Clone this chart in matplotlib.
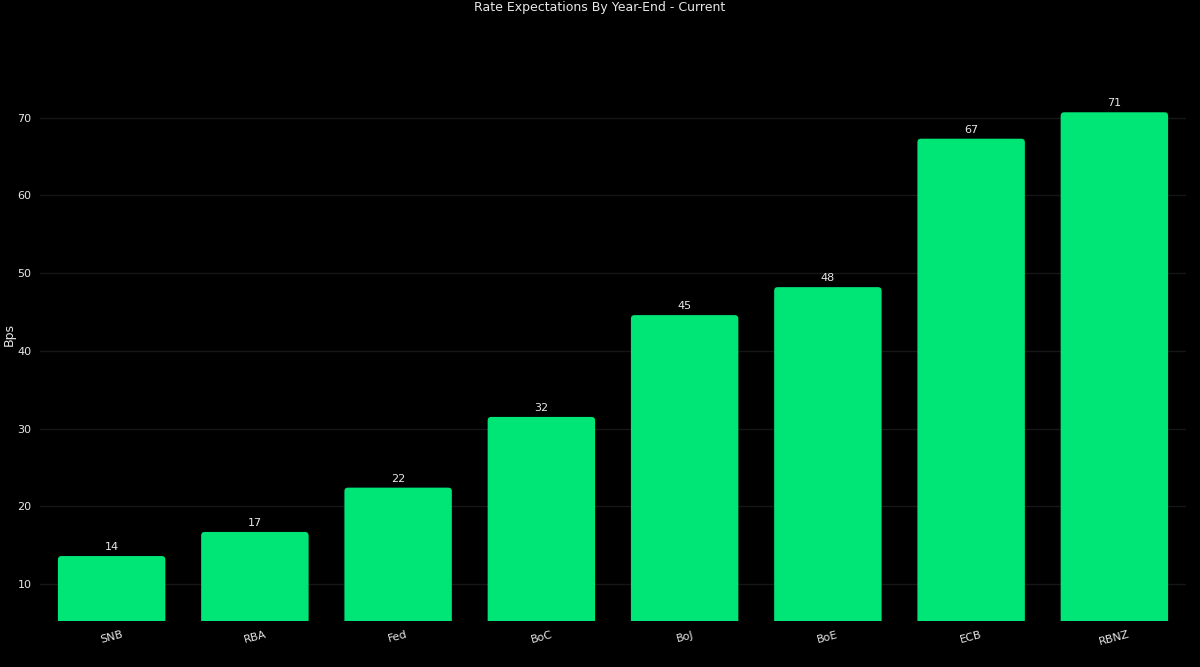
import matplotlib
matplotlib.use("Agg")
import matplotlib.pyplot as plt
from matplotlib.patches import FancyBboxPatch

# data
banks = ["SNB", "RBA", "Fed", "BoC", "BoJ", "BoE", "ECB", "RBNZ"]
bps = [13.6, 16.7, 22.4, 31.5, 44.6, 48.2, 67.3, 70.7]
yticks = [10, 20, 30, 40, 50, 60, 70]

green = "#00e676"

fig = plt.figure(figsize=(12, 6.67), dpi=100, facecolor="black")
ax = fig.add_axes([40 / 1200, 46 / 667, 1146 / 1200, 581 / 667], facecolor="black")

bars = ax.bar(range(len(banks)), bps, width=0.75, color=green)

# swap plain bars for ones with slightly rounded corners
ax.set_xlim(-0.5, len(banks) - 0.5)
ax.set_ylim(5.24, 80)
asp = (1146 / 8) / (581 / (80 - 5.24))
for b in bars:
    x, w, h = b.get_x(), b.get_width(), b.get_height()
    b.set_visible(False)
    p = FancyBboxPatch((x, 0), w, h, boxstyle="round,pad=0,rounding_size=0.025",
                       mutation_aspect=asp, facecolor=green, edgecolor="none")
    ax.add_patch(p)

for i, v in enumerate(bps):
    ax.text(i, v + 0.5, f"{round(v)}", ha="center", va="bottom", color="#e8e8e8", fontsize=8)

ax.set_xticks(range(len(banks)))
ax.set_xticklabels(banks, rotation=15, color="#e8e8e8", fontsize=8)
ax.set_yticks(yticks)
ax.set_yticklabels([str(t) for t in yticks], color="#e8e8e8", fontsize=8)
ax.tick_params(length=0, pad=6)
ax.grid(axis="y", color="#161616", linewidth=1)
ax.set_axisbelow(True)
for s in ax.spines.values():
    s.set_visible(False)

fig.text(3 / 1200, 1 - 335 / 667, "Bps", rotation=90, ha="left", va="center",
         color="#e8e8e8", fontsize=9)
fig.text(0.5, 0.998, "Rate Expectations By Year-End - Current", ha="center", va="top",
         color="#e8e8e8", fontsize=9)

fig.savefig("out.png", dpi=100, facecolor="black")
